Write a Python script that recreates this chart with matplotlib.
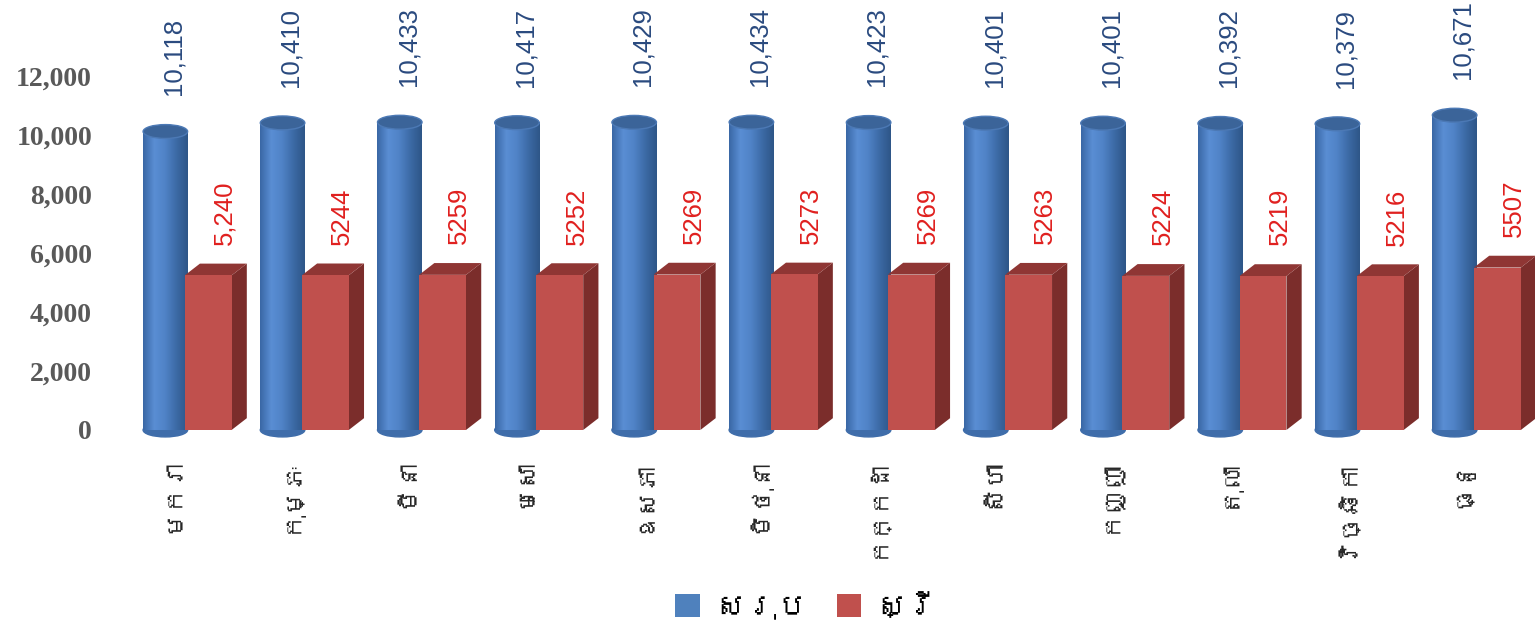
import numpy as np
import matplotlib
matplotlib.use("Agg")
import matplotlib.pyplot as plt
from matplotlib import font_manager
from matplotlib.patches import Ellipse, Polygon
from matplotlib.colors import LinearSegmentedColormap
import matplotlib.transforms as mtransforms

months = ["មករា", "កុម្ភៈ", "មីនា", "មេសា", "ឧសភា", "មិថុនា",
          "កក្កដា", "សីហា", "កញ្ញា", "តុលា", "វិច្ឆិកា", "ធ្នូ"]
total = [10118, 10410, 10433, 10417, 10429, 10434, 10423, 10401, 10401, 10392, 10379, 10671]
female = [5240, 5244, 5259, 5252, 5269, 5273, 5269, 5263, 5224, 5219, 5216, 5507]
total_labels = ["10,118", "10,410", "10,433", "10,417", "10,429", "10,434",
                "10,423", "10,401", "10,401", "10,392", "10,379", "10,671"]
female_labels = ["5,240", "5244", "5259", "5252", "5269", "5273",
                 "5269", "5263", "5224", "5219", "5216", "5507"]
series_names = ["សរុប", "ស្រី"]
yticks = [0, 2000, 4000, 6000, 8000, 10000, 12000]

# find a font with Khmer glyphs if any
khmer_fam = None
try:
    from matplotlib.ft2font import FT2Font
    for fe in font_manager.fontManager.ttflist:
        try:
            f = FT2Font(fe.fname)
            if 0x1780 in f.get_charmap():
                khmer_fam = fe.name
                break
        except Exception:
            pass
except Exception:
    pass
kfam = ([khmer_fam] if khmer_fam else []) + ["Noto Sans", "DejaVu Sans"]

fig = plt.figure(figsize=(15.36, 6.29), dpi=100)
ax = fig.add_axes([0.0798, 0.3164, 0.9195, 0.680])

x = np.arange(len(months))
blue_w, red_w = 0.38, 0.40
b_bars = ax.bar(x - 0.185, total, width=blue_w, color="#4F81BD", zorder=2, label=series_names[0])
r_bars = ax.bar(x + 0.18, female, width=red_w, color="#C0504D", zorder=5, label=series_names[1])

cmap = LinearSegmentedColormap.from_list("cyl", ["#3A68A6", "#5A8ED4", "#4F82C6", "#3C6AA5", "#2E5688"])
grad = np.linspace(0, 1, 64).reshape(1, -1)
eh = 470
for bar in b_bars:
    x0, w, h = bar.get_x(), bar.get_width(), bar.get_height()
    ax.imshow(grad, cmap=cmap, extent=[x0, x0 + w, 0, h], aspect="auto", zorder=3, interpolation="bilinear")
    ax.add_patch(Ellipse((x0 + w / 2, 0), w, eh, color="#3F6DAA", zorder=2.5, clip_on=False))
    ax.add_patch(Ellipse((x0 + w / 2, h), w, eh, facecolor="#3B6499", edgecolor="#4C79B5", lw=1, zorder=4))

dx, dy = 0.13, 400
for bar in r_bars:
    x0, w, h = bar.get_x(), bar.get_width(), bar.get_height()
    x1 = x0 + w
    ax.add_patch(Polygon([(x1, 0), (x1 + dx, dy), (x1 + dx, h + dy), (x1, h)], closed=True,
                         facecolor="#7B2D2B", edgecolor="none", zorder=4.5))
    ax.add_patch(Polygon([(x0, h), (x0 + dx, h + dy), (x1 + dx, h + dy), (x1, h)], closed=True,
                         facecolor="#8F3634", edgecolor="none", zorder=4.5))

for bar, lab in zip(b_bars, total_labels):
    xc = bar.get_x() + bar.get_width() / 2
    tr = mtransforms.offset_copy(ax.transData, fig=fig, x=6, y=26, units="points")
    ax.text(xc, bar.get_height(), lab, rotation=90, ha="center", va="bottom", transform=tr,
            fontsize=18.5, family="Liberation Sans", color="#2A4A7F")
for bar, lab in zip(r_bars, female_labels):
    xc = bar.get_x() + bar.get_width() / 2
    tr = mtransforms.offset_copy(ax.transData, fig=fig, x=12, y=22, units="points")
    ax.text(xc, bar.get_height(), lab, rotation=90, ha="center", va="bottom", transform=tr,
            fontsize=18.5, family="Liberation Sans", color="#E0201F")

ax.set_xlim(-0.55, 11.5)
ax.set_ylim(0, 14500)
ax.set_yticks(yticks)
ax.set_yticklabels([f"{v:,}" for v in yticks], fontsize=20, family="Liberation Serif",
                   fontweight="bold", color="#595959")
ax.tick_params(axis="y", length=0, pad=22)
ax.set_xticks(x - 0.12)
ax.set_xticklabels(months, rotation=90, fontsize=18, family=kfam, color="#262626", va="top", ha="center")
ax.tick_params(axis="x", length=0, pad=20)
for s in ax.spines.values():
    s.set_visible(False)

leg = fig.legend(handles=[b_bars, r_bars], labels=series_names, loc="center",
                 bbox_to_anchor=(0.525, 0.035), ncol=2, frameon=False,
                 prop={"family": kfam, "size": 22}, handlelength=0.8, handleheight=0.8,
                 handletextpad=0.5, columnspacing=1.0)

fig.savefig("out.png", dpi=100)
